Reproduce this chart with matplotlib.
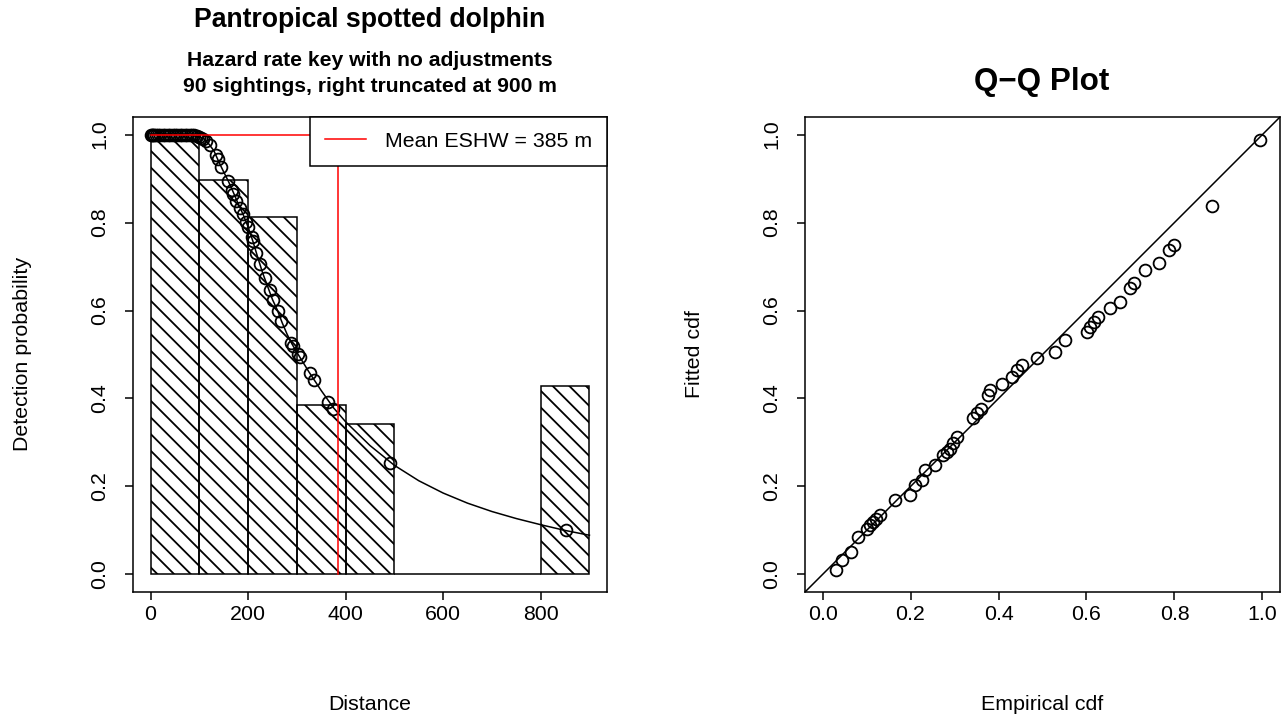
import matplotlib
matplotlib.use('Agg')
import matplotlib.pyplot as plt

plt.rcParams['font.family'] = ['Liberation Sans', 'DejaVu Sans']
plt.rcParams['hatch.linewidth'] = 1.3

# histogram of detection distances (scaled)
bin_left = [0, 100, 200, 300, 400, 500, 800]
bin_width = [100, 100, 100, 100, 100, 300, 100]
bin_height = [0.985, 0.897, 0.8125, 0.385, 0.343, 0.0, 0.428]

# fitted hazard-rate detection function
curve_x = [0, 50, 80, 100, 110, 120, 130, 140, 150, 160, 170, 180, 190, 200,
           210, 220, 230, 240, 250, 260, 270, 280, 290, 300, 325, 350, 375,
           400, 450, 500, 550, 600, 650, 700, 750, 800, 850, 900]
curve_g = [1.0, 1.0, 0.999, 0.995, 0.99, 0.978, 0.963, 0.938, 0.915, 0.893,
           0.868, 0.842, 0.818, 0.79, 0.757, 0.72, 0.685, 0.655, 0.625, 0.601,
           0.572, 0.546, 0.524, 0.505, 0.46, 0.418, 0.379, 0.347, 0.293,
           0.248, 0.213, 0.185, 0.162, 0.143, 0.127, 0.113, 0.1, 0.089]

# sightings on the detection function
pt_dist = [0, 2, 5, 8, 12, 16, 20, 25, 30, 35, 40, 45, 50, 55, 60, 65, 70, 75,
           80, 85, 90, 95, 100, 104, 108, 113, 121, 135, 138, 145, 159, 166,
           169, 176, 183, 189, 196, 200, 207, 210, 217, 224, 234, 244, 251,
           261, 268, 289, 292, 302, 306, 326, 336, 364, 374, 490, 851]
pt_g = [1.0, 1.0, 1.0, 1.0, 1.0, 1.0, 1.0, 1.0, 1.0, 1.0, 1.0, 1.0, 1.0, 1.0,
        1.0, 1.0, 1.0, 1.0, 0.999, 0.999, 0.998, 0.997, 0.995, 0.993, 0.99,
        0.986, 0.977, 0.954, 0.945, 0.926, 0.894, 0.875, 0.866, 0.85, 0.834,
        0.82, 0.801, 0.79, 0.767, 0.757, 0.731, 0.706, 0.673, 0.646, 0.623,
        0.598, 0.577, 0.526, 0.52, 0.502, 0.494, 0.458, 0.441, 0.392, 0.376,
        0.253, 0.1]

eshw = 385

# Q-Q plot
emp_cdf = [0.031, 0.043, 0.065, 0.080, 0.100, 0.107, 0.115, 0.122, 0.130,
           0.164, 0.198, 0.210, 0.225, 0.232, 0.255, 0.274, 0.282, 0.289,
           0.297, 0.305, 0.342, 0.350, 0.361, 0.377, 0.380, 0.407, 0.430,
           0.441, 0.453, 0.487, 0.528, 0.551, 0.601, 0.608, 0.616, 0.627,
           0.654, 0.677, 0.699, 0.707, 0.733, 0.764, 0.787, 0.798, 0.886, 0.995]
fit_cdf = [0.009, 0.032, 0.051, 0.085, 0.104, 0.112, 0.119, 0.127, 0.134,
           0.169, 0.180, 0.203, 0.214, 0.237, 0.248, 0.271, 0.279, 0.286,
           0.298, 0.313, 0.355, 0.366, 0.377, 0.408, 0.419, 0.434, 0.449,
           0.465, 0.476, 0.491, 0.506, 0.533, 0.552, 0.563, 0.575, 0.586,
           0.605, 0.620, 0.651, 0.662, 0.692, 0.708, 0.738, 0.749, 0.837, 0.987]

fs = 15.4

fig = plt.figure(figsize=(12.87, 7.21), dpi=100)
ax1 = fig.add_axes([133/1287, 129/721, 474/1287, 475/721])
ax2 = fig.add_axes([805/1287, 129/721, 475/1287, 475/721])

# left panel
ax1.bar(bin_left, bin_height, width=bin_width, align='edge', facecolor='none',
        edgecolor='black', hatch='\\\\', linewidth=1.1)
ax1.plot(curve_x, curve_g, color='black', linewidth=1.1)
ax1.plot(pt_dist, pt_g, linestyle='none', marker='o', markersize=8.5,
         markerfacecolor='none', markeredgecolor='black', markeredgewidth=1.3)
ax1.plot([eshw, eshw], [0, 1], color='red', linewidth=1.1,
         label='Mean ESHW = %d m' % eshw)
ax1.plot([0, eshw], [1, 1], color='red', linewidth=1.1)
ax1.set_xlim(-36, 936)
ax1.set_ylim(-0.04, 1.04)
ax1.set_xticks([0, 200, 400, 600, 800])
leg = ax1.legend(loc='upper right', borderaxespad=0, fancybox=False,
                 edgecolor='black', framealpha=1, fontsize=fs,
                 handlelength=1.9, handletextpad=0.9, borderpad=0.7)
leg.get_frame().set_linewidth(1.1)

# right panel
ax2.plot([-0.04, 1.04], [-0.04, 1.04], color='black', linewidth=1.1)
ax2.plot(emp_cdf, fit_cdf, linestyle='none', marker='o', markersize=8.5,
         markerfacecolor='none', markeredgecolor='black', markeredgewidth=1.3)
ax2.set_xlim(-0.04, 1.04)
ax2.set_ylim(-0.04, 1.04)
ax2.set_xticks([0.0, 0.2, 0.4, 0.6, 0.8, 1.0])
ax2.set_xticklabels(['0.0', '0.2', '0.4', '0.6', '0.8', '1.0'])

for ax in (ax1, ax2):
    ax.set_yticks([0.0, 0.2, 0.4, 0.6, 0.8, 1.0])
    ax.set_yticklabels(['0.0', '0.2', '0.4', '0.6', '0.8', '1.0'],
                       rotation=90, va='center')
    ax.tick_params(direction='out', length=6, width=1.1, labelsize=fs)
    ax.tick_params(axis='x', pad=3)
    ax.tick_params(axis='y', pad=11)
    for s in ax.spines.values():
        s.set_linewidth(1.1)

# titles and axis labels
fig.text(370/1287, 1 - 20/721, 'Pantropical spotted dolphin', ha='center',
         va='center', fontsize=19.2, fontweight='bold')
fig.text(370/1287, 1 - 60/721, 'Hazard rate key with no adjustments',
         ha='center', va='center', fontsize=15.2, fontweight='bold')
fig.text(370/1287, 1 - 86/721, '90 sightings, right truncated at 900 m',
         ha='center', va='center', fontsize=15.2, fontweight='bold')
fig.text(1042/1287, 1 - 82/721, 'Q\u2212Q Plot', ha='center', va='center',
         fontsize=22.6, fontweight='bold')
fig.text(370/1287, 1 - 705/721, 'Distance', ha='center', va='center',
         fontsize=fs)
fig.text(22/1287, 1 - 354/721, 'Detection probability', ha='center',
         va='center', rotation=90, fontsize=fs)
fig.text(1042/1287, 1 - 705/721, 'Empirical cdf', ha='center', va='center',
         fontsize=fs)
fig.text(695/1287, 1 - 354/721, 'Fitted cdf', ha='center', va='center',
         rotation=90, fontsize=fs)

fig.savefig('out.png', dpi=100)
